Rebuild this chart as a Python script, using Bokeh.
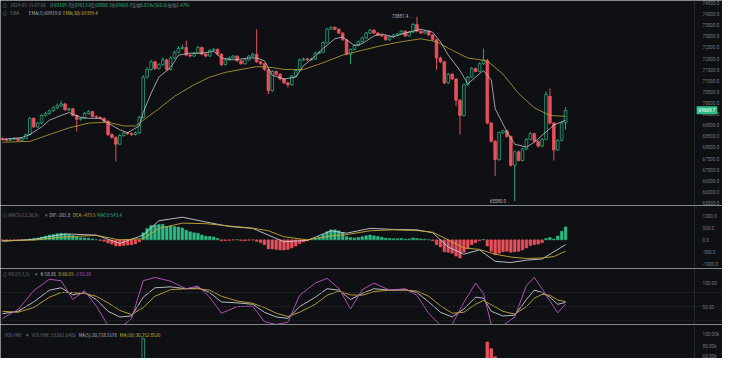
from bokeh.plotting import figure
from bokeh.layouts import column
from bokeh.models import (ColumnDataSource, Range1d, SingleIntervalTicker, FixedTicker,
                          NumeralTickFormatter, Label, Span, LinearAxis)
from bokeh.embed import file_html
from bokeh.resources import INLINE

# ---------------- data ----------------
opens = [68400, 68360, 68320, 68360, 68405, 68320, 68405, 68578, 69310, 68922,
         69095, 69440, 69526, 69655, 69785, 69871, 69957, 69698, 69741, 69440,
         69267, 69310, 69526, 69612, 69397, 69354, 69310, 69181, 68578, 68448,
         68147, 68535, 68664, 68621, 68578, 68664, 69354, 71164, 71509, 71853,
         71552, 71724, 71940, 71509, 72026, 72284, 72457, 72500, 72155, 72112,
         72241, 72500, 72198, 72112, 72371, 72414, 72198, 71724, 71940, 72026,
         72112, 71896, 71767, 71940, 72112, 72198, 71853, 71767, 71509, 70560,
         71422, 71293, 71078, 70905, 70819, 71207, 71465, 71940, 71983, 71940,
         71983, 72241, 72284, 72715, 73319, 73405, 73319, 73146, 72845, 72198,
         72414, 72586, 72758, 72931, 73146, 73276, 73146, 73060, 73017, 72845,
         72974, 73060, 73103, 73233, 73017, 73189, 73534, 73233, 73146, 73233,
         73060, 72845, 72026, 71853, 70905, 71293, 71078, 70129, 69440, 70819,
         71164, 71552, 71422, 71767, 71900, 69095, 68276, 67457, 68664, 68750,
         68492, 67198, 67802, 67414, 67931, 68362, 68621, 68276, 68060, 68362,
         70300, 69095, 67888, 68319, 69109.7]
highs = [68450, 68420, 68400, 68450, 68430, 68440, 68620, 69380, 69350, 69150,
         69500, 69600, 69700, 69850, 69980, 70100, 70010, 69800, 69780, 69480,
         69350, 69600, 69680, 69650, 69450, 69400, 69360, 69220, 68640, 68500,
         68600, 68720, 68700, 68680, 68720, 69420, 71250, 71600, 71950, 71900,
         71800, 72050, 71990, 72100, 72350, 72560, 72620, 72800, 72200, 72300,
         72580, 72540, 72250, 72420, 72480, 72450, 72240, 72000, 72090, 72160,
         72150, 71930, 71990, 72160, 72260, 73320, 71900, 71800, 71560, 71480,
         71460, 71340, 71120, 70960, 71260, 71520, 72000, 72040, 72030, 72040,
         72300, 72340, 72780, 73380, 73460, 73450, 73360, 73190, 72890, 72460,
         72640, 72810, 72990, 73200, 73340, 73320, 73190, 73110, 73060, 73030,
         73110, 73150, 73290, 73270, 73240, 73600, 73881.4, 73280, 73290, 73270,
         73100, 72890, 72080, 71900, 71350, 71340, 71120, 70180, 70880, 71220,
         71610, 71600, 71830, 72450, 71990, 69140, 68320, 68720, 68800, 68790,
         68540, 67860, 67850, 67990, 68420, 68680, 68660, 68320, 68420, 70520,
         70650, 69140, 68370, 69150, 69813.6]
lows = [68300, 68280, 68290, 68330, 68290, 68300, 68380, 68540, 68880, 68880,
        69050, 69380, 69480, 69600, 69720, 69820, 69650, 69620, 69400, 68720,
        69200, 69280, 69480, 69350, 69300, 69260, 69120, 68520, 68400, 67370,
        68100, 68480, 68560, 68520, 68540, 68600, 69300, 71100, 71450, 71480,
        71500, 71680, 71450, 71460, 71980, 72230, 72400, 72100, 72050, 72080,
        72200, 72150, 72050, 72080, 72330, 72150, 71650, 71680, 71900, 71980,
        71850, 71720, 71730, 71900, 72070, 71800, 71700, 71450, 70400, 70500,
        71240, 71020, 70850, 70700, 70780, 71160, 71420, 71880, 71890, 71900,
        71940, 72200, 72240, 72680, 73280, 73270, 73100, 72800, 72150, 71750,
        72370, 72540, 72710, 72890, 73100, 73100, 73010, 72970, 72800, 72800,
        72930, 73020, 73060, 72970, 72980, 73150, 73180, 73100, 73100, 73010,
        72800, 71500, 71800, 70850, 70860, 71020, 69870, 68580, 69390, 70770,
        71120, 71380, 71380, 71720, 69040, 68220, 66720, 67400, 68610, 68440,
        67140, 65580, 67360, 67370, 67880, 68320, 68220, 68000, 68010, 68320,
        69040, 67410, 67840, 68270, 68800.7]
closes = [68360, 68320, 68360, 68405, 68320, 68405, 68578, 69310, 68922, 69095,
          69440, 69526, 69655, 69785, 69871, 69957, 69698, 69741, 69440, 69267,
          69310, 69526, 69612, 69397, 69354, 69310, 69181, 68578, 68448, 68147,
          68535, 68664, 68621, 68578, 68664, 69354, 71164, 71509, 71853, 71552,
          71724, 71940, 71509, 72026, 72284, 72457, 72500, 72155, 72112, 72241,
          72500, 72198, 72112, 72371, 72414, 72198, 71724, 71940, 72026, 72112,
          71896, 71767, 71940, 72112, 72198, 71853, 71767, 71509, 70560, 71422,
          71293, 71078, 70905, 70819, 71207, 71465, 71940, 71983, 71940, 71983,
          72241, 72284, 72715, 73319, 73405, 73319, 73146, 72845, 72198, 72414,
          72586, 72758, 72931, 73146, 73276, 73146, 73060, 73017, 72845, 72974,
          73060, 73103, 73233, 73017, 73189, 73534, 73233, 73146, 73233, 73060,
          72845, 72026, 71853, 70905, 71293, 71078, 70129, 69440, 70819, 71164,
          71552, 71422, 71767, 71940, 69095, 68276, 67457, 68664, 68750, 68492,
          67198, 67802, 67414, 67931, 68362, 68621, 68276, 68060, 68362, 70388,
          69095, 67888, 68319, 69095, 69669.7]
volumes = [18200, 15400, 12800, 14100, 16300, 13900, 21500, 38400, 29600, 22700,
           27300, 24100, 21800, 23600, 25900, 28400, 26200, 17500, 24800, 31600,
           16900, 19800, 18300, 21200, 15700, 14600, 19300, 36800, 27400, 45200,
           33900, 22100, 17800, 16400, 18900, 41300, 93400, 52700, 46300, 38200,
           31500, 35800, 40200, 37600, 33100, 29800, 27500, 39400, 24600, 22300,
           30100, 28700, 21900, 26400, 19800, 24300, 37900, 28100, 21500, 18700,
           23400, 21800, 19600, 22900, 20400, 48600, 26300, 31700, 54800, 42100,
           29500, 27300, 30800, 25400, 33600, 31200, 38700, 22400, 18900, 17600,
           26700, 24100, 39800, 51300, 33200, 25800, 28400, 34600, 49100, 38700,
           29300, 26100, 27800, 31400, 29700, 22800, 20300, 18600, 25700, 21900,
           19400, 17800, 23600, 24900, 20800, 35200, 44300, 26700, 19800, 23100,
           28900, 53600, 34700, 56200, 41800, 33900, 55700, 57600, 48300, 39100,
           36400, 27800, 32600, 38900, 87200, 75400, 61300, 52800, 33700, 29400,
           54100, 57300, 41600, 36200, 33800, 29100, 27600, 24900, 26300, 56800,
           49700, 53400, 36100, 29800, 13861.64]

ema7_idx = [0, 5, 7, 10, 12, 15, 17, 20, 22, 25, 27, 30, 32, 35, 36, 38, 40, 43, 45, 48,
            51, 54, 56, 59, 63, 65, 67, 69, 72, 75, 77, 80, 82, 85, 87, 90, 92, 95, 97, 100,
            102, 105, 107, 110, 112, 114, 117, 119, 121, 123, 125, 126, 129, 131, 134, 136, 139, 141, 144]
ema7 = [68362, 68448, 68578, 68922, 69224, 69440, 69569, 69354, 69310, 69310,
        69095, 68793, 68664, 68966, 69569, 70431, 71164, 71595, 72155, 72241,
        72241, 72327, 72026, 71940, 72026, 72026, 71896, 71250, 71078, 71164,
        71681, 72112, 72457, 72888, 72974, 72586, 72672, 73017, 73103, 72974,
        73103, 73233, 73319, 73189, 72758, 72155, 71465, 70862, 71164, 71465,
        71034, 69741, 68707, 68147, 68017, 68233, 68700, 69009, 69224]
ema30_idx = [0, 7, 12, 17, 22, 27, 31, 34, 40, 44, 49, 53, 57, 61, 65, 69, 72, 77, 82, 87,
             92, 97, 102, 107, 111, 115, 119, 124, 128, 132, 136, 140, 144]
ema30 = [68233, 68276, 68578, 68879, 69095, 69138, 68966, 68966, 69741, 70302,
         70819, 71164, 71379, 71509, 71638, 71595, 71509, 71509, 71810, 72155,
         72371, 72586, 72758, 72888, 72758, 72371, 72026, 71896, 71293, 70431,
         69785, 69440, 69399.4]

macd_hist = [-40, -50, -40, -30, -30, -20,
             0, 40, 60, 70,
             120, 160, 200, 230, 260, 280, 250, 230, 180, 120, 90,
             80, 70, 40, 10,
             -30, -60, -130, -180, -260, -260, -240, -220, -200, -170,
             -80, 300, 480,
             600, 620, 640, 650, 560, 580, 560, 540,
             500, 400, 340, 300, 280,
             200, 150, 140, 120, 60, -40,
             -30, -20, -10, 10, -30, -40, -20, -10,
             -60, -120, -200, -380, -380,
             -400, -420, -420, -400, -340,
             -260, -160, -90, -40, 10,
             60, 120, 220, 340, 420,
             420, 380, 300, 140,
             100, 80, 100, 130, 170, 200,
             170, 140, 110, 70, 60,
             50, 50, 60, 30, 40, 80,
             60, 40, 30, 10, -40,
             -200, -300, -500, -520, -560, -680, -760,
             -520, -360, -200, -120, -40, 20,
             -260, -480, -620, -560, -500, -480, -520,
             -500, -480, -420, -340, -240, -200, -180, -120,
             60, 100, 40, 160, 360, 543.4]
macd_idx = [0, 8, 16, 24, 30, 36, 40, 46, 52, 58, 64, 68, 72, 78, 84, 88, 94, 100, 106,
            110, 114, 118, 122, 126, 130, 134, 138, 141, 144]
dif = [-60, 20, 250, 200, -150, 200, 800, 950, 750, 560, 480, 200, -80, -20, 380, 280,
       480, 440, 420, 300, -300, -600, -420, -900, -950, -850, -800, -500, -201.8]
dea = [-30, -10, 120, 190, 0, 50, 480, 700, 680, 580, 490, 380, 130, 0, 170, 220,
       380, 420, 390, 320, 0, -340, -400, -600, -720, -780, -760, -700, -473.5]

kdj_idx = [0, 4, 8, 12, 15, 18, 21, 24, 27, 30, 33, 36, 39, 43, 47, 50, 53, 56, 60, 64,
           67, 70, 73, 76, 80, 83, 86, 89, 92, 95, 99, 103, 106, 109, 112, 115, 118, 121, 123, 125,
           128, 131, 134, 136, 138, 140, 142, 144]
k_vals = [35, 40, 60, 85, 90, 75, 80, 65, 40, 28, 30, 70, 90, 92, 88, 90, 80, 60, 58, 55,
          38, 28, 25, 50, 70, 88, 85, 65, 78, 88, 85, 86, 80, 60, 38, 28, 45, 70, 68, 40,
          30, 32, 65, 85, 80, 70, 55, 58.86]
d_vals = [40, 38, 48, 70, 80, 80, 78, 72, 58, 42, 33, 48, 72, 86, 88, 88, 85, 72, 62, 57,
          48, 36, 29, 38, 55, 74, 83, 75, 74, 82, 85, 85, 83, 72, 52, 36, 38, 55, 63, 54,
          40, 34, 50, 68, 76, 74, 64, 60.65]
j_vals = [25, 44, 84, 108, 105, 65, 84, 51, 10, 5, 24, 105, 112, 104, 88, 94, 70, 36, 50, 51,
          18, 12, 17, 74, 100, 110, 89, 45, 86, 100, 85, 88, 74, 36, 10, 12, 59, 100, 78, 12,
          10, 28, 95, 112, 88, 62, 37, 55.28]

price_ticks_step = 500
kdj_ticks = [50, 100]
kdj_levels = [20, 50, 80]
macd_ticks = [-1000, -500, 0, 500, 1000]
vol_ticks = [60000, 80000, 100000]

# ---------------- style ----------------
BG = "#0f1014"
UP = "#25a77b"
DN = "#e8505b"
GRAY = "#6d7179"
LIGHT = "#b9bcc2"
YEL = "#d2b43c"
GRN = "#2ebd85"
MAG = "#c355c8"
W = 722
PX = 699 / 178.75          # pixels per candle slot
X0 = -0.5
X1 = X0 + W / PX           # frame spans the whole width
AXX = 177.0                # where the price scale sits
SX = 699 / 715.0
HFONT = "Noto Sans CJK SC"
HSIZE = "4.5px"

n = len(closes)
idx = list(range(n))
is_up = [c >= o for o, c in zip(opens, closes)]
cols = [UP if u else DN for u in is_up]
fills = [BG if u else DN for u in is_up]
src = ColumnDataSource(dict(
    x=idx, o=opens, h=highs, l=lows, c=closes,
    top=[max(o, c) for o, c in zip(opens, closes)],
    bot=[min(o, c) for o, c in zip(opens, closes)],
    col=cols, fill=fills, vol=volumes,
    hist=macd_hist,
    hcol=[GRN if v >= 0 else DN for v in macd_hist],
))

xr = Range1d(X0, X1)


def mk(h, yr, ticker, fmt):
    f = figure(width=W, height=h, x_range=xr, y_range=Range1d(*yr),
               output_backend="svg", toolbar_location=None,
               x_axis_location=None, y_axis_location=None,
               min_border_left=0, min_border_right=0, min_border_top=0, min_border_bottom=0,
               background_fill_color=BG, border_fill_color=BG, outline_line_color=None)
    f.xgrid.visible = False
    f.ygrid.visible = False
    ax = LinearAxis(fixed_location=AXX, ticker=ticker, formatter=fmt)
    ax.major_label_text_font_size = "4.6px"
    ax.major_label_text_color = "#767a82"
    ax.major_label_text_font = "Roboto"
    ax.axis_line_color = "#24262b"
    ax.major_tick_line_color = None
    ax.minor_tick_line_color = None
    ax.major_label_standoff = 2
    f.add_layout(ax, "right")
    return f


def hdr(f, y, segs):
    for x, t, c in segs:
        f.add_layout(Label(x=X0, y=y, x_offset=x * SX, text=t, text_color=c,
                           text_font=HFONT, text_font_size=HSIZE, text_baseline="middle"))


# price panel
p1 = mk(205, (65388, 74612), SingleIntervalTicker(interval=price_ticks_step),
        NumeralTickFormatter(format="0.0"))
p1.segment(x0="x", y0="l", x1="x", y1="h", color="col", line_width=1, source=src)
p1.vbar(x="x", width=0.68, top="top", bottom="bot", fill_color="fill", line_color="col",
        line_width=0.8, source=src)
p1.line(ema7_idx, ema7, line_color="#c9ccd2", line_width=0.9, line_alpha=0.85)
p1.line(ema30_idx, ema30, line_color="#b9a23a", line_width=0.9, line_alpha=0.9)
hdr(p1, 74396, [(2, "⊙", GRAY), (10, "2024-03-15 07:00", GRAY), (50, "开", GRAY),
                (55, "69109.7", GRN), (71, "高", GRAY), (76, "69813.6", GRN), (92, "低", GRAY),
                (97, "68800.7", GRN), (113, "收", GRAY), (118, "69669.7", GRN), (134, "涨幅", GRAY),
                (143, "0.81%(560.0)", GRN), (171, "振幅", GRAY), (180, "1.47%", GRN)])
hdr(p1, 74030, [(2, "⊙", GRAY), (10, "EMA", GRAY), (29, "EMA(7):69919.0", LIGHT),
                (64, "EMA(30):69399.4", YEL)])
p1.add_layout(Label(x=106, y=73881.4, x_offset=-3, text="73881.4 ←", text_align="right",
                    text_baseline="middle", text_color="#aeb2b9", text_font="Roboto",
                    text_font_size=HSIZE))
p1.add_layout(Label(x=131, y=65580.0, x_offset=-3, text="65580.0 ←", text_align="right",
                    text_baseline="middle", text_color="#aeb2b9", text_font="Roboto",
                    text_font_size=HSIZE))
p1.add_layout(Label(x=AXX, y=closes[-1], x_offset=2, text="69669.7", text_align="left",
                    text_baseline="middle", text_color="#ffffff", text_font="Roboto",
                    text_font_size="4.6px", background_fill_color=GRN, padding=2))

# MACD panel
p2 = mk(63, (-1200, 1440), FixedTicker(ticks=macd_ticks), NumeralTickFormatter(format="0.0"))
p2.vbar(x="x", width=0.68, top="hist", bottom=0, fill_color="hcol", line_color="hcol",
        line_width=0.5, source=src)
p2.line(macd_idx, dif, line_color="#c9ccd2", line_width=0.9)
p2.line(macd_idx, dea, line_color="#c4a93a", line_width=0.9)
hdr(p2, 1040, [(2, "⊙", GRAY), (8, "MACD(12,26,9)", GRAY), (46, "▾", GRAY),
               (50, "DIF:-201.8", LIGHT), (74, "DEA:-473.5", YEL), (99, "MACD:543.4", GRN)])

# KDJ panel
p3 = mk(56, (12, 131), FixedTicker(ticks=kdj_ticks), NumeralTickFormatter(format="0.00"))
for lv in kdj_levels:
    p3.add_layout(Span(location=lv, dimension="width", line_color="#30333a",
                       line_dash="2 2", line_width=0.8))
p3.line(kdj_idx, k_vals, line_color="#c9ccd2", line_width=0.9)
p3.line(kdj_idx, d_vals, line_color="#c4a93a", line_width=0.9)
p3.line(kdj_idx, j_vals, line_color=MAG, line_width=0.9)
hdr(p3, 118.4, [(2, "⊙", GRAY), (8, "KDJ(9,3,3)", GRAY), (35, "▾", GRAY),
                (41, "K:58.86", LIGHT), (59, "D:60.65", YEL), (77, "J:55.28", MAG)])

# volume panel
p4 = mk(34, (58300, 118300), FixedTicker(ticks=vol_ticks), NumeralTickFormatter(format="0.00a"))
p4.vbar(x="x", width=0.68, top="vol", bottom=0, fill_color="fill", line_color="col",
        line_width=0.8, source=src)
hdr(p4, 100000, [(4, "VOLUME", GRAY), (26, "▾", GRAY), (32, "VOLUME:13,861.6400", GRAY),
                 (80, "MA(5):20,718.5178", LIGHT), (122, "MA(10):30,252.8526", YEL)])

layout = column(p1, p2, p3, p4, spacing=0)
open("out.html", "w").write(file_html(layout, INLINE))
